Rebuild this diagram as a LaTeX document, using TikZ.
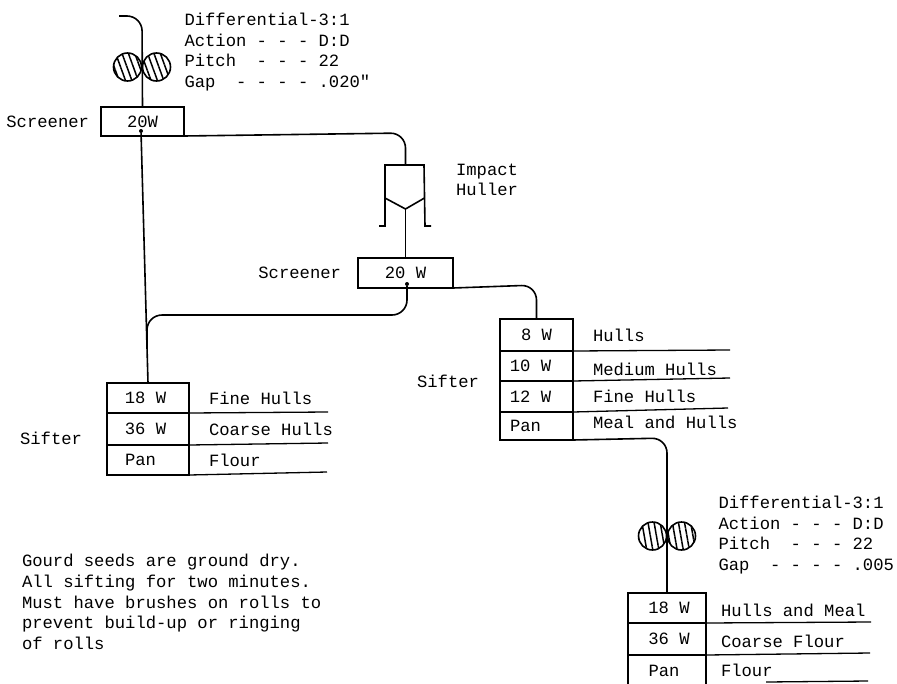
\documentclass[tikz,border=0pt]{standalone}
\usepackage{fontspec}
\setmonofont{Liberation Mono}
\usetikzlibrary{positioning, patterns.meta}

\begin{document}
\begin{tikzpicture}[
        x=1pt, y=-1pt,
        line width=1.6pt,
        font=\fontsize{17.2}{20.6}\selectfont\ttfamily,
        every node/.style={outer sep=0pt},
        tag/.style={inner sep=0pt, align=left},
        cell/.style={draw, rectangle, inner sep=0pt},
        cellA/.style={cell, minimum width=82pt},
        cellB/.style={cell, minimum width=73pt},
        cellC/.style={cell, minimum width=78pt},
        boxscr/.style={draw, rectangle, inner sep=0pt},
        roll/.style={draw, circle, inner sep=0pt, minimum size=28pt, pattern={Lines[angle=#1, distance=6pt, line width=1.5pt]}},
        tipdot/.style={circle, fill, inner sep=0pt, minimum size=4pt},
        flow/.style={rounded corners=15pt},
        rulel/.style={line width=1.3pt}
    ]
    \useasboundingbox (0,0) rectangle (897,683);

    % Nodes
    \node[roll=110] (rollA) at (127.5,67) {};
    \node[roll=110, right=1pt of rollA] (rollB) {};
    \node[tag, right=14pt of rollB, yshift=15pt] (diffA) {Differential-3:1\\Action~-~-~-~D:D\\Pitch~~-~-~-~22\\Gap~~-~-~-~-~.020"};

    \node[boxscr, minimum width=83pt, minimum height=29pt] (scrA) at (142.5,121.5) {20W};
    \node[tag, left=12pt of scrA] (scrAtag) {Screener};
    \node[tipdot] (dotA) at (141,131) {};

    \node[tag] (hullertag) at (487,180) {Impact\\Huller};
    \coordinate (hopTop) at (405.5,165);
    \coordinate (hopTip) at (405.5,209);

    \node[boxscr, minimum width=95pt, minimum height=30pt] (scrB) at (405.5,273) {20 W};
    \node[tag, left=17pt of scrB] (scrBtag) {Screener};
    \node[tipdot] (dotB) at (407,284) {};

    % Left sifter
    \node[cellA, minimum height=30pt] (siftA1) at (148,398) {18 W\hspace{5pt}\null};
    \node[cellA, minimum height=32pt, below=0pt of siftA1] (siftA2) {36 W\hspace{5pt}\null};
    \node[cellA, minimum height=30pt, below=0pt of siftA2] (siftA3) {Pan\hspace{15pt}\null};
    \node[tag, left=25pt of siftA2, yshift=-9pt] (siftAtag) {Sifter};
    \node[tag, right=20pt of siftA1] (fineA) {Fine Hulls};
    \node[tag, right=20pt of siftA2] (coarseA) {Coarse Hulls};
    \node[tag, right=20pt of siftA3] (flourA) {Flour};

    % Right sifter
    \node[cellB, minimum height=32pt] (siftB1) at (536.5,335) {8 W\null};
    \node[cellB, minimum height=30pt, below=0pt of siftB1] (siftB2) {\raisebox{-4pt}{10 W}\hspace{12pt}\null};
    \node[cellB, minimum height=31pt, below=0pt of siftB2] (siftB3) {\raisebox{-2pt}{12 W}\hspace{12pt}\null};
    \node[cellB, minimum height=28pt, below=0pt of siftB3] (siftB4) {Pan\hspace{22pt}\null};
    \node[tag, left=21pt of siftB2.south west] (siftBtag) {Sifter};
    \node[tag, right=20pt of siftB1] (hullsB) {Hulls};
    \node[tag, right=20pt of siftB2, yshift=-3pt] (mediumB) {Medium Hulls};
    \node[tag, right=20pt of siftB3] (fineB) {Fine Hulls};
    \node[tag, right=20pt of siftB4, yshift=4pt] (mealB) {Meal and Hulls};

    % Last break and sifter
    \node[roll=100] (rollC) at (652.5,536) {};
    \node[roll=100, right=1pt of rollC] (rollD) {};
    \node[tag, right=23pt of rollD, yshift=1pt] (diffB) {Differential-3:1\\Action~-~-~-~D:D\\Pitch~~-~-~-~22\\Gap~~-~-~-~-~.005};

    \node[cellC, minimum height=30pt] (siftC1) at (667,608) {\hspace{4pt}18 W};
    \node[cellC, minimum height=32pt, below=0pt of siftC1] (siftC2) {\hspace{4pt}36 W};
    \node[cellC, minimum height=32pt, below=0pt of siftC2] (siftC3) {\raisebox{1pt}{Pan}\hspace{6pt}\null};
    \node[tag, right=15pt of siftC1, yshift=-2pt] (hullsC) {Hulls and Meal};
    \node[tag, right=15pt of siftC2, yshift=-2pt] (coarseC) {Coarse Flour};
    \node[tag, right=15pt of siftC3, yshift=1pt] (flourC) {Flour};

    % Free ends and bends
    \coordinate (feed) at (119,16);
    \coordinate (feedTop) at (142,16);
    \coordinate (busA) at (147,315);
    \coordinate (joinA) at (147,345);
    \coordinate (busB) at (405.5,133);
    \coordinate (busC) at (536.5,285);
    \coordinate (busD) at (667,438);

    % Arrows
    \draw[flow] (feed) -- (feedTop) -- (scrA.north);
    \draw (dotA) -- (siftA1.north);
    \draw[flow] (scrA.south east) -- (busB) -- (hopTop);
    \draw (hopTip) -- (scrB.north);
    \draw[flow] (dotB) -- (dotB |- busA) -- (busA) -- (joinA);
    \draw[flow] (scrB.south east) -- (busC) -- (siftB1.north);
    \draw[flow] (siftB4.south east) -- (busD) -- (siftC1.north);

    % Hopper
    \draw (379,226) -- (385,226) -- (385,165) -- (424,165) -- (425,226) -- (431,226);
    \draw (385,198) -- (hopTip) -- (424.5,198);

    % Rules beside the sieves
    \foreach \row/\xend/\yend in {siftA1/328/412, siftA2/328/443, siftA3/327/472, siftB1/730/350, siftB2/730/378, siftB3/728/408, siftC1/871/622, siftC2/870/653}{
        \coordinate (\row end) at (\xend,\yend);
        \draw[rulel] (\row.south east) -- (\row end);
    }
    \coordinate (flourStart) at (766,682);
    \coordinate (flourEnd) at (868,681);
    \draw[rulel] (flourStart) -- (flourEnd);

    % Notes
    \node[tag, anchor=west] (notes) at (22,602) {Gourd seeds are ground dry.\\All sifting for two minutes.\\Must have brushes on rolls to\\prevent build-up or ringing\\of rolls};
    \end{tikzpicture}
\end{document}
